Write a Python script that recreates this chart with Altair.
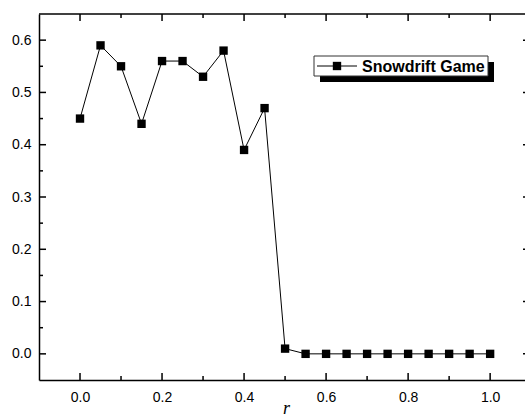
import altair as alt
import pandas as pd

# Fraction vs. r for the snowdrift game
r_values = [0.0, 0.05, 0.1, 0.15, 0.2, 0.25, 0.3, 0.35, 0.4, 0.45, 0.5,
            0.55, 0.6, 0.65, 0.7, 0.75, 0.8, 0.85, 0.9, 0.95, 1.0]
fractions = [0.45, 0.59, 0.55, 0.44, 0.56, 0.56, 0.53, 0.58, 0.39, 0.47, 0.01,
             0.0, 0.0, 0.0, 0.0, 0.0, 0.0, 0.0, 0.0, 0.0, 0.0]
series_name = "Snowdrift Game"

x_major = [0.0, 0.2, 0.4, 0.6, 0.8, 1.0]
x_minor = [0.1, 0.3, 0.5, 0.7, 0.9]
y_major = [0.0, 0.1, 0.2, 0.3, 0.4, 0.5, 0.6]
y_minor = [0.05, 0.15, 0.25, 0.35, 0.45, 0.55]

W, H = 486, 366

df = pd.DataFrame({"r": r_values, "v": fractions})
xs = alt.Scale(domain=[-0.1, 1.085], nice=False, zero=False)
ys = alt.Scale(domain=[-0.05, 0.65], nice=False, zero=False)

x_axis = alt.Axis(values=x_major, format=".1f", title="r",
                  titleFont="Liberation Serif", titleFontStyle="italic",
                  titleFontWeight="normal", titleFontSize=18,
                  titleX=247, titleY=33, titleBaseline="alphabetic",
                  labelPadding=10)
y_axis = alt.Axis(values=y_major, format=".1f", title=None, labelPadding=8)

base = alt.Chart(df).encode(
    x=alt.X("r:Q", scale=xs, axis=x_axis, title="r"),
    y=alt.Y("v:Q", scale=ys, axis=y_axis, title=None),
)
line = base.mark_line(color="black", strokeWidth=1)
points = base.mark_square(color="black", size=70, opacity=1)


def ticks(values, orient, length, width=1.5):
    d = pd.DataFrame({"t": values})
    c = alt.Chart(d).mark_rule(color="black", strokeWidth=width)
    if orient in ("bottom", "top"):
        y0 = H if orient == "bottom" else 0
        y1 = y0 - length if orient == "bottom" else length
        return c.encode(x=alt.X("t:Q", scale=xs, axis=x_axis, title="r"),
                        y=alt.value(y0), y2=alt.value(y1))
    x0 = 0 if orient == "left" else W
    x1 = length if orient == "left" else W - length
    return c.encode(y=alt.Y("t:Q", scale=ys, axis=y_axis, title=None),
                    x=alt.value(x0), x2=alt.value(x1))


tick_layers = [
    ticks(x_major, "bottom", 7), ticks(x_minor, "bottom", 4),
    ticks(x_major, "top", 7), ticks(x_minor, "top", 4),
    ticks(y_major, "left", 7), ticks(y_minor, "left", 4),
    ticks(y_major, "right", 2),
]

one = alt.Data(values=[{"k": 0}])
top_edge = alt.Chart(one).mark_rule(color="black", strokeWidth=1.5).encode(
    x=alt.value(0), x2=alt.value(W), y=alt.value(0))

# Legend box with drop shadow
shadow = alt.Chart(one).mark_rect(color="black").encode(
    x=alt.value(281), x2=alt.value(455), y=alt.value(48), y2=alt.value(68))
box = alt.Chart(one).mark_rect(fill="white", stroke="#333333", strokeWidth=1).encode(
    x=alt.value(275), x2=alt.value(449), y=alt.value(42), y2=alt.value(62))
leg_line = alt.Chart(one).mark_rule(color="black", strokeWidth=1).encode(
    x=alt.value(278), x2=alt.value(318), y=alt.value(52))
leg_mark = alt.Chart(one).mark_square(color="black", size=70, opacity=1).encode(
    x=alt.value(298), y=alt.value(52))
leg_text = alt.Chart(one).mark_text(
    text=series_name, font="Liberation Sans", fontWeight="bold", fontSize=16,
    align="left", baseline="alphabetic", color="black").encode(
    x=alt.value(323), y=alt.value(58))

chart = alt.layer(
    line, points, *tick_layers, top_edge, shadow, box, leg_line, leg_mark, leg_text
).properties(
    width=W, height=H,
    autosize=alt.AutoSizeParams(type="none"),
    padding={"left": 39, "top": 14, "right": 0, "bottom": 38},
).configure_view(stroke=None).configure_axis(
    domainColor="black", domainWidth=1.5, ticks=False, grid=False,
    labelFont="Liberation Sans", labelFontSize=14, labelColor="black",
    titleColor="black",
)

chart.save("out.html", embed_options={"renderer": "svg", "actions": False})
